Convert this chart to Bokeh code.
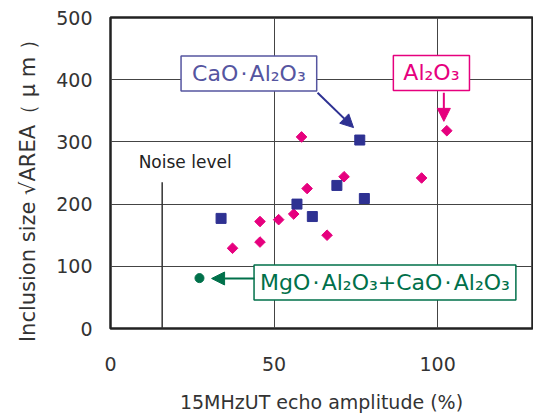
import math
from bokeh.plotting import figure
from bokeh.models import Label, Arrow, NormalHead, Range1d, FixedTicker
from bokeh.embed import file_html
from bokeh.resources import INLINE

# ---- data ----
cao_x = [33.8, 57.0, 61.7, 69.2, 77.6, 76.2]
cao_y = [177, 200, 180, 230, 209, 303]
al_x = [37.3, 45.7, 45.7, 51.4, 56.0, 60.1, 66.2, 71.4, 95.1, 58.4, 102.8]
al_y = [129, 139, 172, 175, 184, 225, 150, 244, 242, 308, 318]
mg_x = [27.2]
mg_y = [81]
noise_x = 15.8
noise_top = 235
x_ticks = [0, 50, 100]
y_ticks = [0, 100, 200, 300, 400, 500]

FONT = "DejaVu Sans"
BLUE = "#2e3192"
BLUE_TXT = "#5555a0"
MAG = "#e6007e"
GRN = "#00704a"
DOT = "\u200a·\u200a"

p = figure(width=533, height=420, output_backend="svg", toolbar_location=None,
           x_range=Range1d(0, 129), y_range=Range1d(0, 500),
           min_border_left=110, min_border_right=1, min_border_top=17,
           min_border_bottom=92)
p.background_fill_color = "white"
p.border_fill_color = "white"
p.outline_line_color = "#222222"
p.outline_line_width = 2.5

for ax in (p.xaxis[0], p.yaxis[0]):
    ax.axis_line_color = None
    ax.major_tick_line_color = None
    ax.minor_tick_line_color = None
    ax.major_label_text_font = FONT
    ax.major_label_text_font_size = "19px"
    ax.major_label_text_color = "#333333"
    ax.axis_label_text_font = FONT
    ax.axis_label_text_font_style = "normal"
    ax.axis_label_text_color = "#333333"

p.xaxis.ticker = FixedTicker(ticks=x_ticks)
p.yaxis.ticker = FixedTicker(ticks=y_ticks)
p.xaxis.major_label_standoff = 22
p.yaxis.major_label_standoff = 12
p.xaxis.axis_label = "15MHzUT echo amplitude (%)"
p.xaxis.axis_label_text_font_size = "19px"
p.xaxis.axis_label_standoff = 17
p.yaxis.axis_label = "Inclusion size √AREA（ μ m ）\u2003\u2009"
p.yaxis.axis_label_text_font_size = "21px"
p.yaxis.axis_label_standoff = 13

p.xgrid.ticker = FixedTicker(ticks=x_ticks)
p.ygrid.ticker = FixedTicker(ticks=y_ticks)
p.grid.grid_line_color = "#444444"
p.grid.grid_line_width = 1

# noise level
p.segment(x0=[noise_x], y0=[0], x1=[noise_x], y1=[noise_top], line_color="#333333", line_width=1.5)
p.add_layout(Label(x=8.6, y=268, text="Noise level", text_align="left", text_baseline="middle",
                   text_font=FONT, text_font_size="17px", text_color="#222222"))

# markers
p.scatter(al_x, al_y, marker="square", size=7.5, angle=math.pi / 4, fill_color=MAG, line_color=MAG)
p.scatter(cao_x, cao_y, marker="square", size=10, fill_color=BLUE, line_color=BLUE)
p.scatter(mg_x, mg_y, marker="circle", size=9, fill_color=GRN, line_color=GRN)

# annotation boxes
def box(x, y, text, color, hpad):
    p.add_layout(Label(x=x, y=y, text=text, text_align="center", text_baseline="middle",
                       text_font=FONT, text_font_size="22px", text_color=color,
                       background_fill_color="white", border_line_color=color,
                       border_line_width=1.5,
                       padding=dict(left=hpad, right=hpad, top=5, bottom=5)))

box(42.3, 410, "CaO" + DOT + "Al₂O₃", BLUE_TXT, 11)
box(98.1, 410.8, "Al₂O₃", MAG, 10)
box(83.9, 74, "MgO" + DOT + "Al₂O₃+CaO" + DOT + "Al₂O₃", GRN, 6)

# arrows
def arrow(x0, y0, x1, y1, color):
    p.add_layout(Arrow(x_start=x0, y_start=y0, x_end=x1, y_end=y1, line_color=color, line_width=2,
                       end=NormalHead(size=13, fill_color=color, line_color=color)))

arrow(63.3, 379, 74.3, 323, BLUE)
arrow(101.9, 379, 101.9, 333, MAG)
arrow(44.0, 80.4, 30.9, 80.4, GRN)

open("out.html", "w").write(file_html(p, INLINE))
